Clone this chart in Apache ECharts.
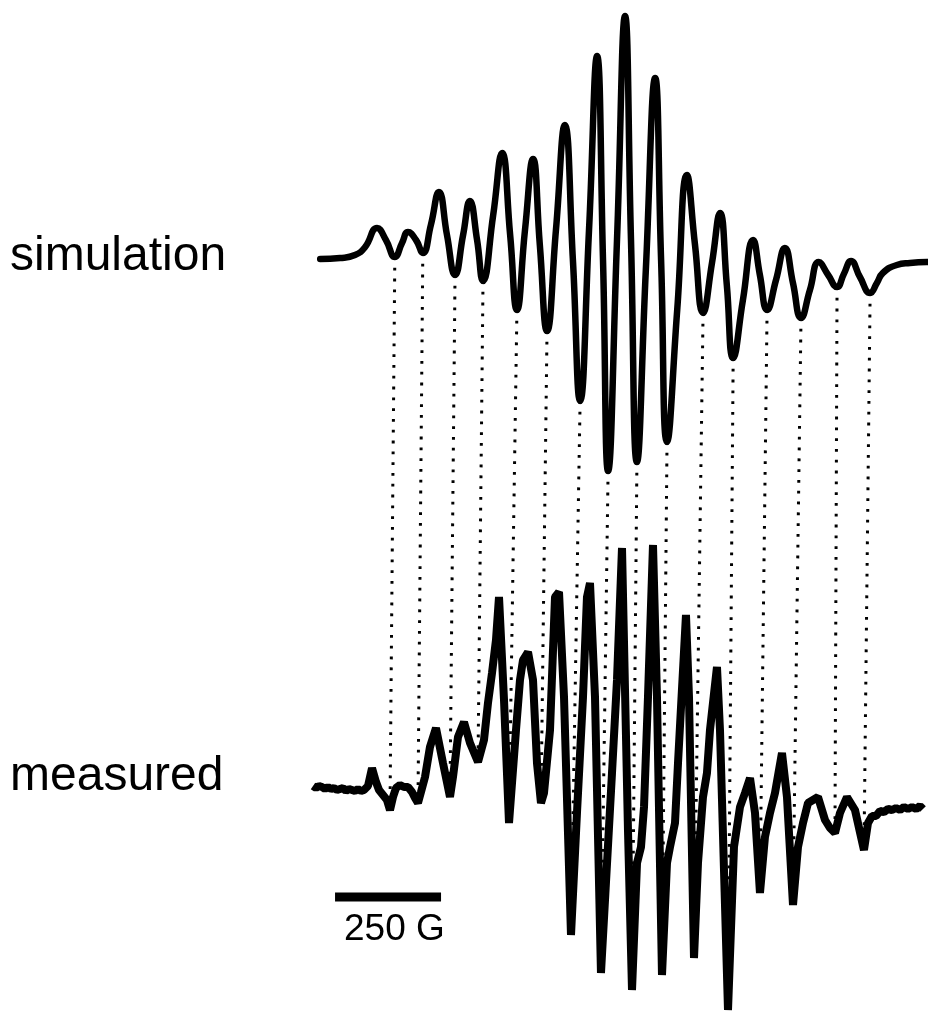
<!DOCTYPE html>
<html><head><meta charset="utf-8">
<script src="https://cdn.jsdelivr.net/npm/echarts@6/dist/echarts.min.js"></script>
<style>html,body{margin:0;padding:0;background:#fff}#chart{width:928px;height:1013px}</style>
</head><body><div id="chart"></div>
<script>
// Field in gauss (relative), intensity in arbitrary units
const simSpectrum = [[17,0],[64,0.1],[99,0.4],[123,1.2],[151,3.1],[172,1.9],[193,0.2],[210,1.6],[224,2.7],[243,1.9],[259,0.6],[278,3.4],[297,6.7],[316,2.4],[335,-1.6],[354,2.4],[370,5.8],[387,1.9],[401,-2.2],[425,4.4],[446,10.6],[465,2.4],[481,-5.1],[500,2.9],[519,10.0],[535,1.4],[552,-7.2],[573,2.9],[594,13.4],[613,-0.1],[630,-14.2],[651,2.9],[670,20.3],[684,-0.1],[696,-21.2],[717,1.9],[736,24.3],[750,1.9],[764,-20.3],[785,-1.1],[807,18.1],[821,-0.1],[835,-18.3],[859,-5.1],[882,8.4],[901,1.4],[920,-5.4],[941,-0.4],[960,4.6],[976,-2.6],[991,-9.9],[1014,-4.1],[1038,1.9],[1054,-1.6],[1071,-5.1],[1092,-2.1],[1113,1.1],[1132,-2.4],[1151,-5.9],[1172,-3.1],[1193,-0.3],[1215,-1.6],[1236,-2.8],[1252,-1.5],[1269,-0.2],[1290,-1.8],[1314,-3.4],[1330,-2.4],[1344,-1.4],[1377,-0.6],[1408,-0.4],[1448,-0.3]];

const measSpectrum = [[0,0.4],[7.1,0.2],[14.2,0.4],[21.2,0.3],[28.3,0.1],[35.4,0.3],[42.5,0.1],[49.5,0.2],[56.6,0],[63.7,0.1],[70.8,0.2],[77.8,-0.1],[84.9,0.1],[92.0,0],[99.1,-0.1],[106.1,0.1],[113.2,-0.1],[120.3,0],[129.7,0.4],[139.2,2.2],[148.6,0.8],[155.7,0],[165.1,-0.5],[174.5,-1.0],[181.6,-2.0],[188.7,-0.7],[195.8,0.2],[205.2,0.5],[214.6,0.3],[224.1,0.3],[233.5,-0.2],[240.6,-0.8],[247.6,-1.3],[254.7,-0.2],[264.2,1.3],[275.9,4.3],[290.1,6.2],[306.6,2.7],[323.1,-0.7],[330.2,1.3],[342.0,5.3],[356.1,6.8],[370.3,4.7],[389.2,2.8],[403.3,5.0],[412.7,8.7],[422.2,11.7],[431.6,15.0],[438.7,19.3],[450.5,9.0],[462.3,-3.3],[478.8,6.0],[488.2,11.0],[495.3,13.0],[507.1,13.8],[518.9,11.0],[528.3,2.7],[537.7,-1.3],[544.8,-0.3],[559.0,6.0],[570.8,19.3],[580.2,19.8],[592.0,9.3],[608.5,-14.5],[622.6,-2.3],[636.8,9.3],[646.2,19.3],[653.3,20.7],[665.1,9.3],[679.2,-18.3],[688.7,-11.0],[705.2,1.7],[717.0,11.0],[728.8,24.2],[742.9,-4.0],[752.4,-20.0],[764.2,-7.3],[773.6,-5.7],[780.7,-1.7],[790.1,9.3],[801.9,24.5],[811.3,9.3],[823.1,-18.5],[834.9,-7.3],[842.0,-5.7],[853.8,-3.3],[860.9,2.7],[879.7,17.5],[886.8,9.3],[898.6,-16.8],[908.0,-7.3],[919.8,-0.7],[929.2,1.7],[936.3,6.0],[952.8,12.3],[959.9,6.0],[978.8,-22.0],[992.9,-5.7],[1007.1,-1.7],[1018.9,-0.3],[1030.7,1.2],[1042.5,-2.3],[1054.2,-10.3],[1066.0,-4.7],[1077.8,-2.3],[1089.6,-0.3],[1106.1,3.7],[1117.9,-0.7],[1132.1,-11.5],[1143.9,-5.7],[1155.7,-3.3],[1167.5,-1.3],[1191.0,-0.7],[1207.6,-3.0],[1219.3,-3.8],[1231.1,-4.3],[1242.9,-2.3],[1259.4,-0.7],[1278.3,-2.0],[1299.5,-6.0],[1309.0,-3.3],[1318.4,-2.6],[1327.9,-2.6],[1337.3,-2.1],[1346.7,-2.2],[1356.2,-1.9],[1365.6,-2.0],[1375.0,-1.8],[1384.4,-2.0],[1393.9,-1.7],[1403.3,-1.9],[1412.7,-1.7],[1422.2,-1.9],[1431.6,-1.6],[1438.7,-1.9]];

// matched minima (field positions) joined by dotted guide lines
const linkSimField  = [193, 259, 335, 401, 481, 552, 630, 696, 764, 835, 920, 991, 1071, 1151, 1236, 1314];
const linkMeasField = [181.6, 247.6, 323.1, 389.2, 462.3, 537.7, 608.5, 679.2, 752.4, 823.1, 898.6, 978.8, 1054.2, 1132.1, 1231.1, 1299.5];

const traceLabels = ['simulation', 'measured'];
const scaleBarLength = [250];
const scaleBarUnit = 'G';

// display layout
const SIM_OFFSET = 53.1;
const BAR_START = 52;
const BAR_LEVEL = -10.7;
const FONT = "'Liberation Sans', Arial, Helvetica, sans-serif";

function nearest(arr, f) {
  let best = arr[0];
  for (const p of arr) if (Math.abs(p[0] - f) < Math.abs(best[0] - f)) best = p;
  return best;
}

const simShown = simSpectrum.map(p => [p[0], p[1] + SIM_OFFSET]);
const links = linkSimField.map((f, i) => {
  const a = nearest(simSpectrum, f);
  const b = nearest(measSpectrum, linkMeasField[i]);
  return { coords: [[a[0], a[1] + SIM_OFFSET], [b[0], b[1]]] };
});

const chart = echarts.init(document.getElementById('chart'), null, {renderer: 'canvas'});
chart.setOption({
  animation: false,
  backgroundColor: '#fff',
  grid: {left: 0, right: 0, top: 0, bottom: 0},
  xAxis: {type: 'value', min: -738.2, max: 1450.5, show: false},
  yAxis: {type: 'value', min: -22.3, max: 79.0, show: false},
  series: [
    {
      type: 'lines', coordinateSystem: 'cartesian2d', z: 1, silent: true,
      data: links,
      lineStyle: {color: '#000', width: 3, opacity: 1, type: [2.8, 8], cap: 'butt'}
    },
    {
      type: 'line', name: traceLabels[0], data: simShown, smooth: 0.5,
      showSymbol: false, z: 3, silent: true,
      lineStyle: {color: '#000', width: 6.5, join: 'round', cap: 'round'}
    },
    {
      type: 'line', name: traceLabels[1], data: measSpectrum, smooth: false,
      showSymbol: false, z: 3, silent: true,
      lineStyle: {color: '#000', width: 8, join: 'bevel', cap: 'butt'}
    },
    {
      type: 'line', name: 'scale', data: [[BAR_START, BAR_LEVEL], [BAR_START + scaleBarLength[0], BAR_LEVEL]],
      showSymbol: false, z: 3, silent: true,
      lineStyle: {color: '#000', width: 9, cap: 'butt'}
    }
  ],
  graphic: [
    {type: 'text', left: 10, top: 233, style: {text: traceLabels[0], font: '48px ' + FONT, fill: '#000'}},
    {type: 'text', left: 10, top: 753, style: {text: traceLabels[1], font: '48px ' + FONT, fill: '#000'}},
    {type: 'text', left: 344, top: 911, style: {text: scaleBarLength[0] + ' ' + scaleBarUnit, font: '37px ' + FONT, fill: '#000'}}
  ]
});
</script></body></html>
